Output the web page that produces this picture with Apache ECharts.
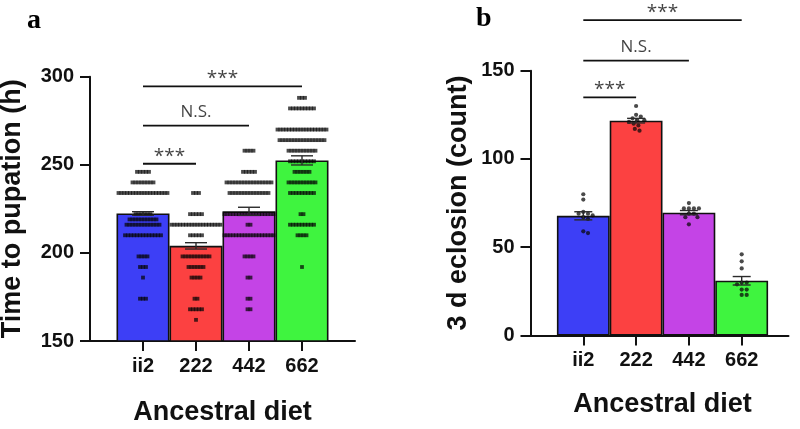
<!DOCTYPE html>
<html><head><meta charset="utf-8">
<script src="https://cdn.jsdelivr.net/npm/echarts@6/dist/echarts.min.js"></script>
<style>html,body{margin:0;padding:0;background:#fff}#c{width:800px;height:429px}</style>
</head><body><div id="c"></div>
<script>
// ---------------- data ----------------
const categories = ['ii2', '222', '442', '662'];
const barColors = ['#3d3ff6', '#fc4141', '#c444e6', '#3ff43f'];

// panel a : time to pupation (h)
const pupationMean = [222.4, 204.0, 223.6, 252.5];
const pupationSem = [1.0, 1.8, 2.3, 2.6];
// individual larvae, grouped as [hours, number of larvae]
const pupationIi2 = [[246,5],[240,8],[234,18],[222,6],[219,10],[216,12],[210,13],[198,4],[192,3],[186,1],[174,3]];
const pupation222 = [[234,3],[222,5],[216,18],[210,5],[198,10],[192,6],[186,4],[174,2],[168,5],[162,1]];
const pupation442 = [[258,4],[246,5],[240,16],[234,14],[222,18],[216,2],[210,18],[198,4],[186,2],[174,2],[168,2]];
const pupation662 = [[288,3],[282,9],[270,18],[264,16],[258,10],[252,9],[246,6],[240,10],[234,9],[222,2],[216,9],[210,4],[192,1]];
const pupationTicks = [150, 200, 250, 300];
const pupationSig = [
  {from: 'ii2', to: '662', y: 294.5, text: '***'},
  {from: 'ii2', to: '442', y: 272.2, text: 'N.S.'},
  {from: 'ii2', to: '222', y: 250.6, text: '***'}
];

// panel b : 3 d eclosion (count)
const eclosionMean = [67.8, 121.7, 69.6, 31.0];
const eclosionSem = [2.3, 1.3, 1.2, 2.4];
const eclosionIi2 = [80, 77, 70, 69, 69, 68, 67, 66, 59, 58];
const eclosion222 = [130, 125, 124, 123, 122, 122, 121, 120, 119, 117, 116];
const eclosion442 = [75, 72, 72, 72, 72, 69, 69, 67, 67, 63];
const eclosion662 = [46, 42, 38, 30, 30, 29, 26, 26, 23, 23];
const eclosionTicks = [0, 50, 100, 150];
const eclosionSig = [
  {from: 'ii2', to: '662', y: 178.7, text: '***'},
  {from: 'ii2', to: '442', y: 155.7, text: 'N.S.'},
  {from: 'ii2', to: '222', y: 134.9, text: '***'}
];

// ---------------- layout / style ----------------
const sans = '"Liberation Sans", Arial, sans-serif';
const ink = '#111';
const panels = [
  {left: 90, top: 76.7, width: 265, height: 264.3, lineLen: 265,
   ticks: pupationTicks, yName: 'Time to pupation (h)', yNameGap: 64, xNameGap: 58,
   means: pupationMean, sems: pupationSem, capHalf: 11, sig: pupationSig,
   points: {type: 'rows', groups: [pupationIi2, pupation222, pupation442, pupation662]}},
  {left: 530.5, top: 70.7, width: 264, height: 264.8, lineLen: 258,
   ticks: eclosionTicks, yName: '3 d eclosion (count)', yNameGap: 58, xNameGap: 56,
   means: eclosionMean, sems: eclosionSem, capHalf: 9, sig: eclosionSig,
   points: {type: 'swarm', groups: [eclosionIi2, eclosion222, eclosion442, eclosion662]}}
];

const axisCats = [''].concat(categories, ['']);
const catPos = c => categories.indexOf(c) + 1;

function rowPoints(rows, idx, pxPerUnit) {
  const out = [];
  rows.forEach(([v, n]) => {
    const step = n > 1 ? Math.min(3, 49 / (n - 1)) : 0;
    for (let i = 0; i < n; i++) out.push([idx + (i - (n - 1) / 2) * step / pxPerUnit, v]);
  });
  return out;
}
function swarmPoints(values, idx, pxPerUnit, pxPerVal, d) {
  const placed = [], out = [];
  values.forEach(v => {
    const y = v * pxPerVal;
    const cands = [0];
    placed.forEach(([px, py]) => {
      const dy = Math.abs(py - y);
      if (dy < d) { const dx = Math.sqrt(d * d - dy * dy); cands.push(px + dx + 0.01, px - dx - 0.01); }
    });
    cands.sort((a, b) => Math.abs(a) - Math.abs(b));
    const x = cands.find(c => placed.every(([px, py]) => (px - c) ** 2 + (py - y) ** 2 >= d * d - 0.05));
    placed.push([x, y]);
    out.push([idx + x / pxPerUnit, v]);
  });
  return out;
}

const grid = [], xAxis = [], yAxis = [], series = [];
panels.forEach((p, pi) => {
  const g = grid.length;
  grid.push({left: p.left, top: p.top, width: p.width, height: p.height, outerBoundsMode: 'none'});
  grid.push({left: p.left, top: p.top, width: p.lineLen, height: p.height, outerBoundsMode: 'none'});
  const xc = xAxis.length;
  const yMin = p.ticks[0], yMax = p.ticks[p.ticks.length - 1], yStep = p.ticks[1] - p.ticks[0];
  xAxis.push({
    type: 'category', gridIndex: g, data: axisCats, boundaryGap: false,
    axisLine: {show: false},
    axisTick: {show: true, length: 10, interval: (i, v) => v !== '', lineStyle: {color: ink, width: 2}},
    axisLabel: {interval: 0, margin: 15, color: ink, fontFamily: sans, fontWeight: 'bold', fontSize: 20},
    splitLine: {show: false},
    name: 'Ancestral diet', nameLocation: 'middle', nameGap: p.xNameGap,
    nameTextStyle: {color: ink, fontFamily: sans, fontWeight: 'bold', fontSize: 27}
  });
  xAxis.push({type: 'value', gridIndex: g, min: 0, max: 5, show: false});
  xAxis.push({type: 'value', gridIndex: g + 1, min: 0, max: 1,
    axisLine: {show: true, lineStyle: {color: ink, width: 2}},
    axisTick: {show: false}, axisLabel: {show: false}, splitLine: {show: false}});
  const ya = yAxis.length;
  yAxis.push({
    type: 'value', gridIndex: g, min: yMin, max: yMax, interval: yStep,
    axisLine: {show: true, lineStyle: {color: ink, width: 2}},
    axisTick: {show: true, length: 10, lineStyle: {color: ink, width: 2}},
    axisLabel: {margin: 16, color: ink, fontFamily: sans, fontWeight: 'bold', fontSize: 20},
    splitLine: {show: false},
    name: p.yName, nameLocation: 'middle', nameGap: p.yNameGap,
    nameTextStyle: {color: ink, fontFamily: sans, fontWeight: 'bold', fontSize: 27}
  });
  yAxis.push({type: 'value', gridIndex: g + 1, min: 0, max: 1, show: false});

  // bars
  series.push({
    type: 'bar', xAxisIndex: xc, yAxisIndex: ya, barWidth: '100%', z: 2, silent: true,
    data: ['-'].concat(p.means.map((m, i) => ({value: m, itemStyle: {color: barColors[i]}})), ['-']),
    itemStyle: {borderColor: ink, borderWidth: 1.6}
  });
  // individual points
  const pxPerUnit = p.width / 5;
  const pxPerVal = p.height / (yMax - yMin);
  let pts = [];
  p.points.groups.forEach((grp, i) => {
    pts = pts.concat(p.points.type === 'rows'
      ? rowPoints(grp, i + 1, pxPerUnit)
      : swarmPoints(grp, i + 1, pxPerUnit, pxPerVal, 5));
  });
  series.push({
    type: 'scatter', xAxisIndex: xc + 1, yAxisIndex: ya, z: 4, silent: true,
    symbol: p.points.type === 'rows' ? 'rect' : 'circle',
    symbolSize: p.points.type === 'rows' ? 3.8 : 4.2,
    itemStyle: {color: p.points.type === 'rows' ? 'rgba(5,5,5,0.9)' : 'rgba(10,10,10,0.92)'},
    data: pts
  });
  // error bars (mean ± SEM)
  const cap = p.capHalf;
  series.push({
    type: 'custom', xAxisIndex: xc, yAxisIndex: ya, z: 5, silent: true,
    encode: {x: 0, y: 1},
    data: p.means.map((m, i) => [i + 1, m, p.sems[i]]),
    renderItem: (params, api) => {
      const x = api.value(0), m = api.value(1), s = api.value(2);
      const t = api.coord([x, m + s]), b = api.coord([x, m - s]);
      const st = {stroke: '#2a2a2a', lineWidth: 1.4};
      return {type: 'group', children: [
        {type: 'line', shape: {x1: t[0], y1: t[1], x2: b[0], y2: b[1]}, style: st},
        {type: 'line', shape: {x1: t[0] - cap, y1: t[1], x2: t[0] + cap, y2: t[1]}, style: st},
        {type: 'line', shape: {x1: b[0] - cap, y1: b[1], x2: b[0] + cap, y2: b[1]}, style: st}
      ]};
    }
  });
  // significance brackets
  p.sig.forEach(s => {
    const a = catPos(s.from), b = catPos(s.to);
    series.push({
      type: 'line', xAxisIndex: xc + 1, yAxisIndex: ya, clip: false, silent: true, z: 6,
      showSymbol: false, symbol: 'none',
      lineStyle: {color: ink, width: 1.8},
      data: [[a, s.y], [b, s.y]]
    });
    const star = s.text === '***';
    series.push({
      type: 'scatter', xAxisIndex: xc + 1, yAxisIndex: ya, clip: false, silent: true, z: 6,
      symbolSize: 0,
      data: [{value: [(a + b) / 2, s.y], label: {
        show: true, position: 'top', distance: star ? -2 : 5, formatter: s.text,
        color: '#111', fontFamily: '"Open Sans", sans-serif', fontSize: star ? 19 : 17
      }}]
    });
  });
});

const chart = echarts.init(document.getElementById('c'));
chart.setOption({
  animation: false,
  backgroundColor: '#fff',
  title: [
    {text: 'a', left: 22, top: 2, textStyle: {fontFamily: '"Liberation Serif", serif', fontWeight: 'bold', fontSize: 28, color: '#000'}},
    {text: 'b', left: 471, top: 0, textStyle: {fontFamily: '"Liberation Serif", serif', fontWeight: 'bold', fontSize: 28, color: '#000'}}
  ],
  grid, xAxis, yAxis, series
});
</script>
</body></html>
